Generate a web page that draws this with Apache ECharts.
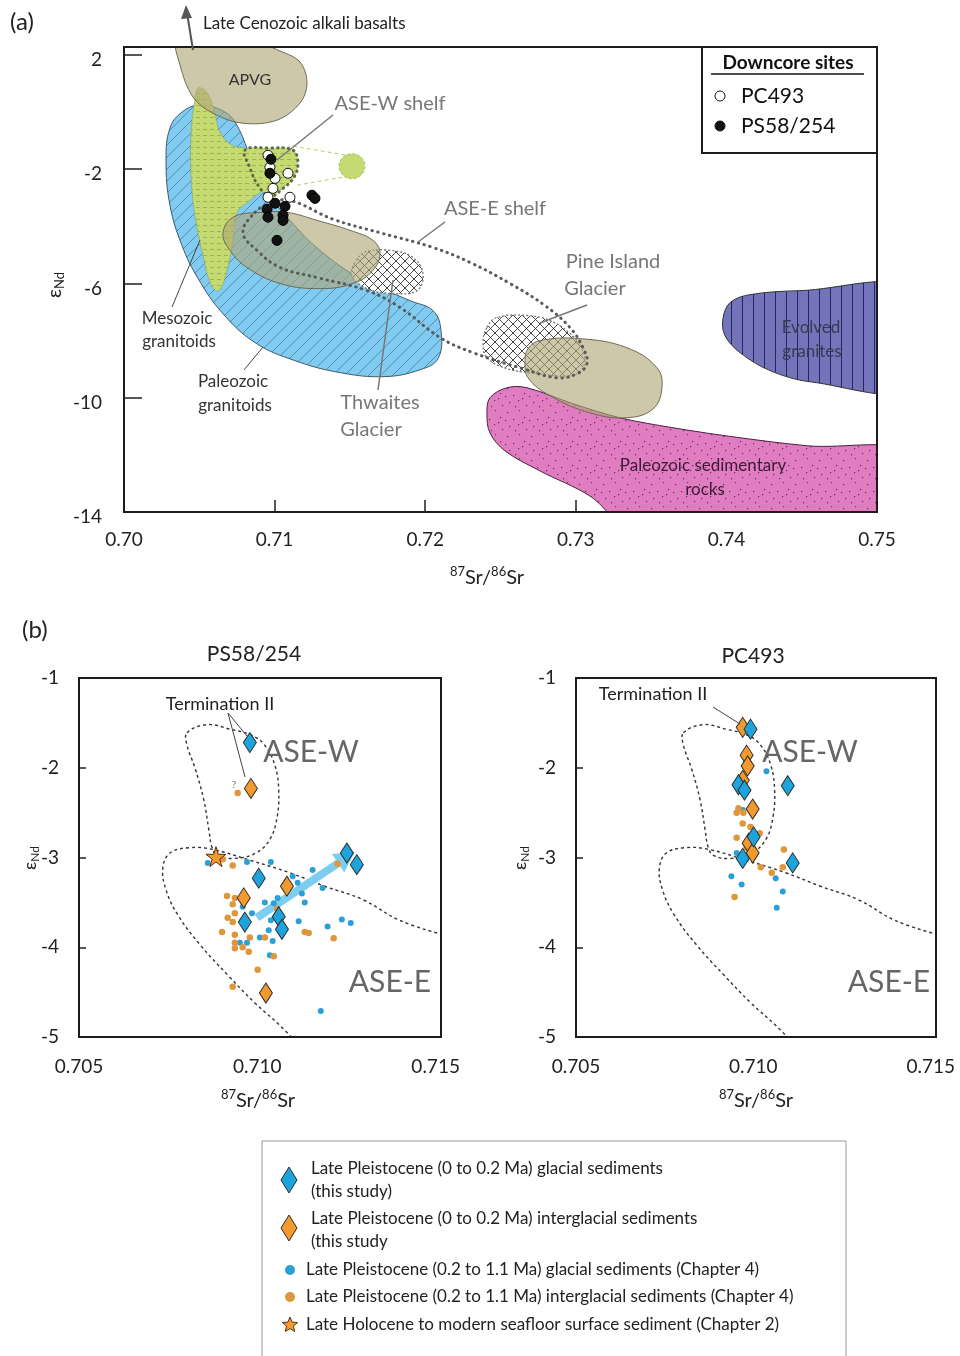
<!DOCTYPE html>
<html>
<head>
<meta charset="utf-8">
<script src="https://cdn.jsdelivr.net/npm/echarts@6/dist/echarts.min.js"></script>
<style>
  html, body { margin: 0; padding: 0; background: #fff; }
  #chart { width: 960px; height: 1356px; }
</style>
</head>
<body>
<div id="chart"></div>
<script>
const FONT = 'Lato, "Open Sans", sans-serif';

// ---------- Panel (a): end-member fields, points are [87Sr/86Sr, eNd] ----------
const apvgField = [[0.70359,2.5],[0.70372,1.65],[0.70458,0.53],[0.70591,-0.04],[0.70790,-0.39],[0.71016,-0.28],[0.71169,0.32],[0.71215,1.02],[0.71169,1.75],[0.71036,2.14],[0.70837,2.5]];
const paleozoicGranitoids = [[0.70505,0.25],[0.70671,0.00],[0.70750,-0.46],[0.70837,-1.51],[0.70969,-2.91],[0.71102,-3.79],[0.71301,-4.84],[0.71567,-5.82],[0.71899,-6.60],[0.72052,-6.95],[0.72105,-7.65],[0.72085,-8.63],[0.71965,-9.02],[0.71733,-9.26],[0.71434,-9.12],[0.71135,-8.70],[0.70870,-8.07],[0.70651,-7.02],[0.70491,-5.82],[0.70385,-4.67],[0.70305,-3.26],[0.70279,-1.68],[0.70305,-0.56],[0.70385,0.00]];
const mesozoicGranitoids = [[0.70491,0.84],[0.70551,0.70],[0.70598,0.07],[0.70637,-0.70],[0.70717,-1.16],[0.70837,-1.33],[0.70916,-1.86],[0.70936,-2.56],[0.70837,-3.09],[0.70750,-3.51],[0.70724,-4.49],[0.70684,-5.54],[0.70631,-6.25],[0.70578,-6.04],[0.70525,-5.02],[0.70471,-3.61],[0.70445,-2.21],[0.70445,-0.81],[0.70465,0.25]];
const aseWShelf = [[0.70803,-1.33],[0.70969,-1.26],[0.71122,-1.33],[0.71155,-1.79],[0.71129,-2.28],[0.71056,-2.67],[0.70969,-2.95],[0.70890,-2.56],[0.70837,-1.96]];
const aseWShelfOutlier = [[0.71514,-1.46],[0.71574,-1.58],[0.71600,-1.89],[0.71574,-2.21],[0.71514,-2.33],[0.71454,-2.21],[0.71428,-1.89],[0.71454,-1.58]];
const aseWShelfLinkTop = [[0.71122,-1.19],[0.71481,-1.51]];
const aseWShelfLinkBottom = [[0.71149,-2.56],[0.71448,-2.28]];
const tanFieldCentral = [[0.70657,-4.25],[0.70724,-3.68],[0.70903,-3.51],[0.71082,-3.51],[0.71282,-3.79],[0.71501,-4.14],[0.71653,-4.49],[0.71700,-4.95],[0.71653,-5.54],[0.71521,-6.00],[0.71301,-6.18],[0.71036,-6.00],[0.70817,-5.44],[0.70704,-4.84]];
const thwaitesGlacier = [[0.71514,-5.72],[0.71541,-5.19],[0.71614,-4.88],[0.71766,-4.84],[0.71919,-5.09],[0.71985,-5.65],[0.71946,-6.25],[0.71786,-6.35],[0.71614,-6.18]];
const pineIslandGlacier = [[0.72410,-7.54],[0.72477,-7.19],[0.72676,-7.12],[0.72829,-7.30],[0.72961,-7.75],[0.73048,-8.35],[0.73048,-8.95],[0.72961,-9.23],[0.72762,-9.16],[0.72543,-8.98],[0.72410,-8.60],[0.72384,-8.07]];
const tanFieldPineIsland = [[0.72683,-8.28],[0.72762,-8.00],[0.73028,-7.93],[0.73340,-8.25],[0.73539,-8.95],[0.73572,-9.65],[0.73513,-10.39],[0.73340,-10.70],[0.73094,-10.53],[0.72829,-9.93],[0.72683,-9.30],[0.72663,-8.70]];
const evolvedGranites = [[0.7525,-6.21],[0.74489,-6.25],[0.74157,-6.39],[0.74024,-6.67],[0.73977,-7.23],[0.73990,-7.82],[0.74090,-8.42],[0.74290,-9.05],[0.74555,-9.44],[0.7525,-9.65]];
const paleozoicSediments = [[0.72410,-10.56],[0.72430,-10.00],[0.72543,-9.65],[0.72676,-9.65],[0.72981,-10.21],[0.73293,-10.70],[0.73645,-11.05],[0.74090,-11.40],[0.74535,-11.68],[0.7525,-11.98],[0.7525,-14.7],[0.7340,-14.7],[0.73094,-13.44],[0.72762,-12.56],[0.72530,-11.86],[0.72430,-11.23]];
const aseEShelf = [[0.70870,-3.51],[0.70969,-3.19],[0.71102,-3.09],[0.71388,-3.75],[0.71720,-4.25],[0.72052,-4.74],[0.72297,-5.26],[0.72563,-6.00],[0.72795,-6.77],[0.72961,-7.54],[0.73048,-8.25],[0.73074,-8.81],[0.73008,-9.16],[0.72875,-9.30],[0.72649,-8.98],[0.72317,-8.42],[0.72098,-7.89],[0.71833,-6.84],[0.71614,-6.25],[0.71282,-5.79],[0.71036,-5.44],[0.70883,-4.84],[0.70790,-4.21]];

// downcore sites
const pc493 = [[0.70956,-1.51],[0.70969,-1.93],[0.71089,-2.14],[0.71003,-2.32],[0.70989,-2.67],[0.70956,-2.98],[0.71102,-2.98]];
const ps58254 = [[0.70976,-1.65],[0.70969,-2.14],[0.71003,-3.19],[0.71069,-3.30],[0.70950,-3.40],[0.70956,-3.68],[0.71056,-3.61],[0.71056,-3.79],[0.71248,-2.91],[0.71268,-3.02],[0.71016,-4.49]];

// axis ticks
const xTicksA = [0.70, 0.71, 0.72, 0.73, 0.74, 0.75];
const yTicksA = [-14, -10, -6, -2, 2];
const xTicksB = [0.705, 0.710, 0.715];
const yTicksB = [-5, -4, -3, -2, -1];

// ---------- Panel (b): provenance fields ----------
const aseWField = [[0.70803,-1.61],[0.70859,-1.52],[0.70923,-1.57],[0.70985,-1.64],[0.71021,-1.75],[0.71049,-1.97],[0.71060,-2.25],[0.71055,-2.56],[0.71035,-2.80],[0.70996,-2.95],[0.70937,-3.01],[0.70889,-2.98],[0.70873,-2.89],[0.70864,-2.69],[0.70850,-2.36],[0.70825,-2.00],[0.70803,-1.75]];
const aseEField = [[0.7152,-3.86],[0.71399,-3.70],[0.71296,-3.47],[0.71189,-3.32],[0.71091,-3.17],[0.70979,-3.03],[0.70875,-2.91],[0.70811,-2.89],[0.70755,-2.95],[0.70735,-3.12],[0.70744,-3.36],[0.70777,-3.64],[0.70839,-3.97],[0.70917,-4.31],[0.70993,-4.62],[0.71063,-4.87],[0.71100,-5.02]];

// PS58/254
const psGlacialNew = [[0.70979,-1.72],[0.71251,-2.95],[0.71279,-3.08],[0.71004,-3.23],[0.70965,-3.72],[0.71060,-3.66],[0.71069,-3.80]];
const psInterglacialNew = [[0.70982,-2.23],[0.71083,-3.32],[0.70962,-3.45],[0.71024,-4.51]];
const psGlacialCh4 = [[0.70861,-3.06],[0.70971,-3.05],[0.71038,-3.05],[0.71099,-3.21],[0.71113,-3.28],[0.71155,-3.14],[0.71183,-3.34],[0.71125,-3.40],[0.71133,-3.50],[0.71021,-3.50],[0.71046,-3.51],[0.71057,-3.45],[0.70959,-3.55],[0.70985,-3.62],[0.71038,-3.70],[0.71116,-3.71],[0.71197,-3.77],[0.71237,-3.69],[0.71262,-3.73],[0.71032,-3.81],[0.71007,-3.89],[0.71043,-3.93],[0.70951,-3.95],[0.70971,-3.95],[0.71035,-4.09],[0.71178,-4.71]];
const psInterglacialCh4 = [[0.70945,-2.28],[0.70903,-3.02],[0.70931,-3.09],[0.70915,-3.43],[0.70937,-3.45],[0.70931,-3.52],[0.70937,-3.62],[0.70917,-3.67],[0.70931,-3.72],[0.70901,-3.83],[0.70937,-3.86],[0.70979,-3.89],[0.71021,-3.89],[0.70937,-3.95],[0.70959,-4.00],[0.70937,-4.01],[0.70976,-4.05],[0.71046,-4.10],[0.71001,-4.25],[0.70931,-4.44],[0.71133,-3.83],[0.71144,-3.84],[0.71214,-3.90],[0.71225,-3.07],[0.71055,-3.57]];
const psSurface = [[0.70884,-2.99]];
const psTrend = [[0.70999,-3.67],[0.71273,-2.94]];

// PC493
const pcGlacialNew = [[0.70992,-1.57],[0.70958,-2.19],[0.70975,-2.25],[0.71097,-2.20],[0.71001,-2.77],[0.70970,-3.01],[0.71111,-3.06]];
const pcInterglacialNew = [[0.70970,-2.14],[0.70970,-1.55],[0.70981,-1.86],[0.70984,-1.98],[0.70998,-2.46],[0.70987,-2.84],[0.70998,-2.95]];
const pcGlacialCh4 = [[0.71037,-2.04],[0.70970,-2.47],[0.70938,-3.21],[0.70967,-3.30],[0.71063,-3.23],[0.71083,-3.38],[0.71066,-3.56],[0.70953,-2.95],[0.71009,-2.78]];
const pcInterglacialCh4 = [[0.70958,-2.45],[0.70953,-2.50],[0.70972,-2.50],[0.70970,-2.62],[0.70992,-2.66],[0.71018,-2.73],[0.70953,-2.78],[0.70978,-2.84],[0.71086,-2.91],[0.71021,-3.11],[0.71052,-3.17],[0.71083,-3.11],[0.70947,-3.44],[0.70981,-2.89]];

// ---------- fill textures ----------
function texture(w, h, bg, draw) {
  const c = document.createElement('canvas');
  c.width = w; c.height = h;
  const g = c.getContext('2d');
  if (bg) { g.fillStyle = bg; g.fillRect(0, 0, w, h); }
  draw(g);
  return { image: c, repeat: 'repeat' };
}
const blueHatch = texture(12, 12, '#80cbef', g => {
  g.strokeStyle = 'rgba(40,95,140,0.55)'; g.lineWidth = 1;
  g.beginPath();
  g.moveTo(0, 12); g.lineTo(12, 0);
  g.moveTo(-1, 1); g.lineTo(1, -1);
  g.moveTo(11, 13); g.lineTo(13, 11);
  g.stroke();
});
const greenDashes = texture(7, 6, '#c6da72', g => {
  g.strokeStyle = 'rgba(110,130,50,0.45)'; g.lineWidth = 1;
  g.beginPath(); g.moveTo(0, 3.5); g.lineTo(4, 3.5); g.stroke();
});
const crossHatch = texture(9, 9, '#ffffff', g => {
  g.strokeStyle = '#333'; g.lineWidth = 0.9;
  g.beginPath();
  g.moveTo(0, 0); g.lineTo(9, 9);
  g.moveTo(0, 9); g.lineTo(9, 0);
  g.stroke();
});
const purpleLines = texture(11, 4, '#7474ba', g => {
  g.strokeStyle = 'rgba(25,25,80,0.85)'; g.lineWidth = 1;
  g.beginPath(); g.moveTo(5.5, 0); g.lineTo(5.5, 4); g.stroke();
});
const pinkDots = texture(24, 24, '#e07dc1', g => {
  g.fillStyle = 'rgba(70,20,60,0.75)';
  [[3,4],[15,2],[9,11],[20,9],[5,18],[14,16],[22,21],[11,22],[1,12],[18,14]].forEach(p => g.fillRect(p[0], p[1], 1.2, 1.2));
});

// ---------- helpers ----------
function field(pts, grid, style, opt) {
  opt = opt || {};
  return {
    type: 'custom', xAxisIndex: grid, yAxisIndex: grid, clip: true, silent: true,
    z: opt.z || 2, data: pts,
    renderItem: function (params, api) {
      if (params.dataIndex !== 0) return null;
      return {
        type: opt.open ? 'polyline' : 'polygon',
        shape: { points: pts.map(p => api.coord(p)), smooth: opt.smooth == null ? 0.4 : opt.smooth },
        style: style
      };
    }
  };
}
function scatter(data, grid, sym, size, color, border, z) {
  return {
    type: 'scatter', xAxisIndex: grid, yAxisIndex: grid, data: data, symbol: sym, symbolSize: size,
    silent: true, z: z,
    itemStyle: { color: color, borderColor: border || 'transparent', borderWidth: border ? 1 : 0, opacity: 1 }
  };
}
const STAR = 'path://M50,0 L61,35 L98,35 L68,57 L79,91 L50,70 L21,91 L32,57 L2,35 L39,35 Z';
const BLUE = '#1ea4dc', ORANGE = '#f39a2e', BLUE_DOT = '#2ca0d6', ORANGE_DOT = '#e0963b';

function txt(x, y, s, size, color, align, weight) {
  return { type: 'text', x: x, y: y, z: 60, silent: true,
    style: { text: s, fill: color || '#222', font: (weight || 'normal') + ' ' + size + 'px ' + FONT,
      textAlign: align || 'center', textVerticalAlign: 'middle' } };
}
function seg(x1, y1, x2, y2, color, w) {
  return { type: 'line', z: 60, silent: true, shape: { x1, y1, x2, y2 }, style: { stroke: color || '#666', lineWidth: w || 1.3 } };
}
function srTitle(x, y, big, small) {
  return { type: 'text', x: x, y: y, z: 60, silent: true,
    style: { text: '{s|87}{n|Sr/}{s|86}{n|Sr}', textAlign: 'center', textVerticalAlign: 'middle',
      rich: { s: { fontSize: small, fontFamily: FONT, fill: '#222', padding: [0, 0, Math.round(small * 0.9), 0] },
              n: { fontSize: big, fontFamily: FONT, fill: '#222' } } } };
}
function epsTitle(x, y, big, small) {
  return { type: 'text', x: x, y: y, z: 60, silent: true, rotation: Math.PI / 2,
    style: { text: '{e|\u03b5}{d|Nd}', textAlign: 'center', textVerticalAlign: 'middle',
      rich: { e: { fontSize: big, fontFamily: FONT, fill: '#222' },
              d: { fontSize: small, fontFamily: FONT, fill: '#222', padding: [Math.round(small * 0.8), 0, 0, 0] } } } };
}
function frame(x, y, w, h, lw) {
  return { type: 'rect', z: 55, silent: true, shape: { x, y, width: w, height: h }, style: { fill: 'none', stroke: '#1c1c1c', lineWidth: lw || 2 } };
}
function starPoints(cx, cy, R, r) {
  const p = [];
  for (let i = 0; i < 10; i++) {
    const a = -Math.PI / 2 + i * Math.PI / 5, rr = i % 2 ? r : R;
    p.push([cx + rr * Math.cos(a), cy + rr * Math.sin(a)]);
  }
  return p;
}
function isOn(v, list) { return list.some(t => Math.abs(t - v) < 1e-7); }

// ---------- axes ----------
const gridA = { left: 124, top: 47, width: 753, height: 465 };
const gridB1 = { left: 79, top: 678, width: 362, height: 359 };
const gridB2 = { left: 576, top: 678, width: 360, height: 359 };

function xAxisCfg(grid, min, max, interval, ticks, digits, margin, tickLen) {
  return { type: 'value', gridIndex: grid, position: 'bottom', min, max, interval, splitLine: { show: false },
    axisLine: { show: false, onZero: false },
    axisTick: { show: tickLen > 0, inside: true, length: tickLen, lineStyle: { color: '#222', width: 1.5 } },
    axisLabel: { margin, fontSize: 19, fontFamily: FONT, color: '#222',
      formatter: v => isOn(v, ticks) ? v.toFixed(digits) : '' } };
}
function yAxisCfg(grid, min, max, interval, ticks, margin, tickLen, drop) {
  const label = { margin, fontSize: 19, fontFamily: FONT, color: '#222',
    formatter: v => isOn(v, ticks) ? String(Math.round(v)) : '' };
  if (drop) { label.verticalAlign = 'top'; label.lineHeight = drop * 2; }
  return { type: 'value', gridIndex: grid, position: 'left', min, max, interval, splitLine: { show: false },
    axisLine: { show: false, onZero: false },
    axisTick: { show: true, inside: true, length: tickLen, lineStyle: { color: '#222', width: 1.5 } },
    axisLabel: label };
}

// ---------- series ----------
const tanStyle = { fill: 'rgba(176,166,118,0.62)', stroke: '#6e6a55', lineWidth: 1 };
const series = [
  // panel (a) fields
  field(paleozoicGranitoids, 0, { fill: blueHatch, stroke: '#3d5a6c', lineWidth: 1 }, { z: 1 }),
  field(mesozoicGranitoids, 0, { fill: greenDashes, stroke: 'rgba(120,140,60,0.5)', lineWidth: 0.8 }, { z: 2 }),
  field(aseWShelf, 0, { fill: greenDashes, stroke: null }, { z: 2 }),
  field(aseWShelfOutlier, 0, { fill: '#c6da72', stroke: '#a9c65a', lineWidth: 1, lineDash: [3, 2] }, { z: 2 }),
  field(aseWShelfLinkTop, 0, { fill: null, stroke: '#b5cf6a', lineWidth: 1, lineDash: [4, 3] }, { z: 2, open: true, smooth: 0 }),
  field(aseWShelfLinkBottom, 0, { fill: null, stroke: '#b5cf6a', lineWidth: 1, lineDash: [4, 3] }, { z: 2, open: true, smooth: 0 }),
  field(thwaitesGlacier, 0, { fill: crossHatch, stroke: '#777', lineWidth: 1.3, lineDash: [2, 2] }, { z: 3 }),
  field(pineIslandGlacier, 0, { fill: crossHatch, stroke: '#777', lineWidth: 1.3, lineDash: [2, 2] }, { z: 3 }),
  field(evolvedGranites, 0, { fill: purpleLines, stroke: '#333', lineWidth: 1 }, { z: 2, smooth: 0.35 }),
  field(paleozoicSediments, 0, { fill: pinkDots, stroke: '#4a2040', lineWidth: 1 }, { z: 2, smooth: 0.35 }),
  field(tanFieldCentral, 0, tanStyle, { z: 4 }),
  field(tanFieldPineIsland, 0, tanStyle, { z: 4 }),
  field(apvgField, 0, tanStyle, { z: 4, smooth: 0.35 }),
  field(aseEShelf, 0, { fill: null, stroke: '#5a5a5a', lineWidth: 3, lineDash: [0.5, 5.5], lineCap: 'round' }, { z: 5 }),
  field(aseWShelf, 0, { fill: null, stroke: '#5e6b45', lineWidth: 3, lineDash: [0.5, 5], lineCap: 'round' }, { z: 5 }),
  scatter(pc493, 0, 'circle', 10, '#ffffff', '#111', 6),
  scatter(ps58254, 0, 'circle', 10, '#111111', '#000', 7),

  // panel (b) fields
  field(aseWField, 1, { fill: null, stroke: '#333', lineWidth: 1.4, lineDash: [3, 3] }, { z: 2 }),
  field(aseEField, 1, { fill: null, stroke: '#333', lineWidth: 1.4, lineDash: [3, 3] }, { z: 2, open: true }),
  field(aseWField, 2, { fill: null, stroke: '#333', lineWidth: 1.4, lineDash: [3, 3] }, { z: 2 }),
  field(aseEField, 2, { fill: null, stroke: '#333', lineWidth: 1.4, lineDash: [3, 3] }, { z: 2, open: true }),

  // trend arrow (PS58/254)
  {
    type: 'custom', xAxisIndex: 1, yAxisIndex: 1, silent: true, z: 2, data: psTrend,
    renderItem: function (params, api) {
      if (params.dataIndex !== 0) return null;
      const a = api.coord(psTrend[0]), b = api.coord(psTrend[1]);
      const dx = b[0] - a[0], dy = b[1] - a[1], L = Math.hypot(dx, dy);
      const ux = dx / L, uy = dy / L, nx = -uy, ny = ux;
      const hx = b[0] - ux * 20, hy = b[1] - uy * 20;
      const pts = [
        [a[0] + nx * 4, a[1] + ny * 4], [hx + nx * 4, hy + ny * 4], [hx + nx * 11, hy + ny * 11], b,
        [hx - nx * 11, hy - ny * 11], [hx - nx * 4, hy - ny * 4], [a[0] - nx * 4, a[1] - ny * 4]
      ];
      return { type: 'polygon', shape: { points: pts }, style: { fill: '#7ccdf0' } };
    }
  },

  scatter(psGlacialCh4, 1, 'circle', 6, BLUE_DOT, null, 3),
  scatter(psInterglacialCh4, 1, 'circle', 6.5, ORANGE_DOT, null, 3),
  scatter(psInterglacialNew, 1, 'diamond', [13, 20], ORANGE, '#2b2b2b', 4),
  scatter(psGlacialNew, 1, 'diamond', [13, 20], BLUE, '#2b2b2b', 4),
  scatter(psSurface, 1, STAR, 20, ORANGE, '#5a3210', 5),

  scatter(pcGlacialCh4, 2, 'circle', 6, BLUE_DOT, null, 3),
  scatter(pcInterglacialCh4, 2, 'circle', 6.5, ORANGE_DOT, null, 3),
  scatter(pcInterglacialNew, 2, 'diamond', [13, 20], ORANGE, '#2b2b2b', 4),
  scatter(pcGlacialNew, 2, 'diamond', [13, 20], BLUE, '#2b2b2b', 4)
];

// ---------- annotations ----------
const G = '#777';
const graphic = [
  frame(gridA.left, gridA.top, gridA.width, gridA.height, 2),
  frame(gridB1.left, gridB1.top, gridB1.width, gridB1.height, 2),
  frame(gridB2.left, gridB2.top, gridB2.width, gridB2.height, 2),

  // panel (a)
  txt(10, 22, '(a)', 24, '#222', 'left'),
  txt(203, 24, 'Late Cenozoic alkali basalts', 17, '#222', 'left'),
  seg(193, 50, 187.5, 16, '#555', 2),
  { type: 'polygon', z: 60, silent: true, shape: { points: [[186, 5], [181, 19], [192, 18]] }, style: { fill: '#555' } },
  txt(250, 80, 'APVG', 16, '#333'),
  txt(390, 104, 'ASE-W shelf', 20, G),
  seg(333, 115, 277, 160, G, 1.5),
  txt(495, 209, 'ASE-E shelf', 20, G),
  seg(445, 222, 418, 242, G, 1.5),
  txt(613, 262, 'Pine Island', 20, G),
  txt(595, 289, 'Glacier', 20, G),
  seg(587, 305, 540, 323, G, 1.5),
  txt(380, 403, 'Thwaites', 20, G),
  txt(371, 430, 'Glacier', 20, G),
  seg(393, 280, 378, 390, G, 1.5),
  txt(177, 319, 'Mesozoic', 17, '#333'),
  txt(179, 342, 'granitoids', 17, '#333'),
  seg(200, 240, 172, 307, '#444', 1),
  txt(233, 382, 'Paleozoic', 17, '#333'),
  txt(235, 406, 'granitoids', 17, '#333'),
  seg(263, 347, 244, 370, '#444', 1),
  txt(811, 328, 'Evolved', 17, '#3a3a55'),
  txt(812, 352, 'granites', 17, '#3a3a55'),
  txt(703, 466, 'Paleozoic sedimentary', 17, '#3c1a38'),
  txt(705, 490, 'rocks', 17, '#3c1a38'),
  epsTitle(55, 285, 20, 13),
  srTitle(487, 578, 20, 13),

  // downcore legend
  { type: 'rect', z: 56, silent: true, shape: { x: 702, y: 47, width: 175, height: 106 }, style: { fill: '#fff', stroke: '#1c1c1c', lineWidth: 2 } },
  txt(788, 63, 'Downcore sites', 19, '#111', 'center', 'bold'),
  seg(711, 74, 864, 74, '#111', 1.5),
  { type: 'circle', z: 60, silent: true, shape: { cx: 720, cy: 96, r: 5 }, style: { fill: '#fff', stroke: '#111', lineWidth: 1 } },
  txt(741, 96, 'PC493', 21, '#111', 'left'),
  { type: 'circle', z: 60, silent: true, shape: { cx: 720, cy: 126, r: 5 }, style: { fill: '#111', stroke: '#111', lineWidth: 1 } },
  txt(741, 126, 'PS58/254', 21, '#111', 'left'),

  // panel (b)
  txt(22, 630, '(b)', 24, '#222', 'left'),
  txt(254, 654, 'PS58/254', 21, '#222'),
  txt(753, 656, 'PC493', 21, '#222'),
  txt(220, 704, 'Termination II', 18, '#222'),
  seg(228, 713, 247, 736, '#444', 1),
  seg(228, 713, 245, 777, '#444', 1),
  txt(234, 785, '?', 10, '#777'),
  txt(653, 694, 'Termination II', 18, '#222'),
  seg(713, 707, 740, 724, '#444', 1),
  txt(311, 752, 'ASE-W', 30, '#666'),
  txt(390, 982, 'ASE-E', 30, '#666'),
  txt(810, 752, 'ASE-W', 30, '#666'),
  txt(889, 982, 'ASE-E', 30, '#666'),
  epsTitle(30, 858, 18, 12),
  epsTitle(520, 858, 18, 12),
  srTitle(258, 1101, 20, 13),
  srTitle(756, 1101, 20, 13),

  // symbol key
  { type: 'rect', z: 50, silent: true, shape: { x: 262, y: 1141, width: 584, height: 240 }, style: { fill: '#fff', stroke: '#999', lineWidth: 1 } },
  { type: 'polygon', z: 60, silent: true, shape: { points: [[289, 1167], [297, 1180], [289, 1193], [281, 1180]] }, style: { fill: BLUE, stroke: '#2b2b2b', lineWidth: 1 } },
  txt(311, 1169, 'Late Pleistocene (0 to 0.2 Ma) glacial sediments', 17, '#222', 'left'),
  txt(311, 1192, '(this study)', 17, '#222', 'left'),
  { type: 'polygon', z: 60, silent: true, shape: { points: [[289, 1215], [297, 1228], [289, 1241], [281, 1228]] }, style: { fill: ORANGE, stroke: '#2b2b2b', lineWidth: 1 } },
  txt(311, 1219, 'Late Pleistocene (0 to 0.2 Ma) interglacial sediments', 17, '#222', 'left'),
  txt(311, 1242, '(this study', 17, '#222', 'left'),
  { type: 'circle', z: 60, silent: true, shape: { cx: 290, cy: 1270, r: 5 }, style: { fill: BLUE_DOT } },
  txt(306, 1270, 'Late Pleistocene (0.2 to 1.1 Ma) glacial sediments (Chapter 4)', 17, '#222', 'left'),
  { type: 'circle', z: 60, silent: true, shape: { cx: 290, cy: 1297, r: 5 }, style: { fill: ORANGE_DOT } },
  txt(306, 1297, 'Late Pleistocene (0.2 to 1.1 Ma) interglacial sediments (Chapter 4)', 17, '#222', 'left'),
  { type: 'polygon', z: 60, silent: true, shape: { points: starPoints(290, 1325, 8, 3.6) }, style: { fill: ORANGE, stroke: '#5a3210', lineWidth: 1 } },
  txt(306, 1325, 'Late Holocene to modern seafloor surface sediment (Chapter 2)', 17, '#222', 'left')
];

const chart = echarts.init(document.getElementById('chart'), null, { renderer: 'canvas' });
chart.setOption({
  animation: false,
  backgroundColor: '#fff',
  grid: [gridA, gridB1, gridB2],
  xAxis: [
    xAxisCfg(0, 0.70, 0.75, 0.01, xTicksA, 2, 18, 12),
    xAxisCfg(1, 0.705, 0.71515, 0.005, xTicksB, 3, 20, 0),
    xAxisCfg(2, 0.705, 0.71515, 0.005, xTicksB, 3, 20, 0)
  ],
  yAxis: [
    yAxisCfg(0, -14, 2.28, 4, yTicksA, 22, 18, 5),
    yAxisCfg(1, -5, -1, 1, yTicksB, 20, 7, 0),
    yAxisCfg(2, -5, -1, 1, yTicksB, 20, 7, 0)
  ],
  series: series,
  graphic: graphic
});
</script>
</body>
</html>
